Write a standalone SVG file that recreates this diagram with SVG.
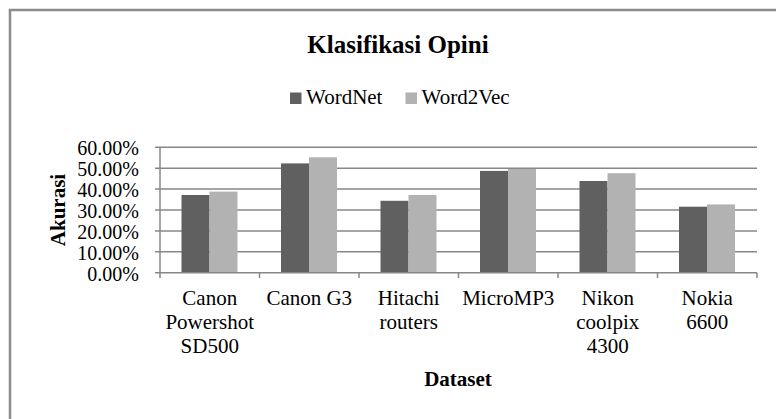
<svg xmlns="http://www.w3.org/2000/svg" width="776" height="419" viewBox="0 0 776 419">
<style>
.t{font-family:"Liberation Serif","Times New Roman",serif;fill:#000}
.tick{font-size:20px;text-anchor:end}
.cat{font-size:21px;text-anchor:middle}
.b{font-weight:bold}
.grid{stroke:#878787;stroke-width:1.5;fill:none}
.dark{fill:#606060}
.light{fill:#b2b2b2}
</style>
<rect width="776" height="419" fill="#fff"/>
<g id="frame" stroke="#8c8c8c" stroke-width="2.5" fill="none">
<line x1="8.8" y1="10" x2="776" y2="10"/>
<line x1="10" y1="10" x2="10" y2="419"/>
</g>
<text id="title" class="t b" x="398" y="53" font-size="25" text-anchor="middle">Klasifikasi Opini</text>
<g id="legend">
<rect class="dark" x="290" y="92.5" width="11.5" height="11.5"/>
<text class="t" x="306" y="104" font-size="21">WordNet</text>
<rect class="light" x="405.5" y="92.5" width="11.5" height="11.5"/>
<text class="t" x="421.5" y="104" font-size="21">Word2Vec</text>
</g>
<g id="gridlines" class="grid">
<line x1="155" y1="147.3" x2="757" y2="147.3"/>
<line x1="155" y1="168.2" x2="757" y2="168.2"/>
<line x1="155" y1="189.1" x2="757" y2="189.1"/>
<line x1="155" y1="210" x2="757" y2="210"/>
<line x1="155" y1="230.9" x2="757" y2="230.9"/>
<line x1="155" y1="251.8" x2="757" y2="251.8"/>
</g>
<g id="y-axis">
<line class="grid" x1="160" y1="147.3" x2="160" y2="272.7"/>
<g class="t tick">
<text x="139" y="155">60.00%</text>
<text x="139" y="176">50.00%</text>
<text x="139" y="197">40.00%</text>
<text x="139" y="217.8">30.00%</text>
<text x="139" y="238.7">20.00%</text>
<text x="139" y="259.6">10.00%</text>
<text x="139" y="280.5">0.00%</text>
</g>
<text class="t b" transform="translate(65,210) rotate(-90)" font-size="21" text-anchor="middle">Akurasi</text>
</g>
<g id="bars">
<g id="canon-powershot">
<rect class="dark" x="181.5" y="195" width="28" height="77.7"/>
<rect class="light" x="209.5" y="191.6" width="28" height="81.1"/>
</g>
<g id="canon-g3">
<rect class="dark" x="281" y="163.4" width="28" height="109.3"/>
<rect class="light" x="309" y="157.3" width="28" height="115.4"/>
</g>
<g id="hitachi">
<rect class="dark" x="380.5" y="200.8" width="28" height="71.9"/>
<rect class="light" x="408.5" y="195" width="28" height="77.7"/>
</g>
<g id="micromp3">
<rect class="dark" x="480" y="170.9" width="28" height="101.8"/>
<rect class="light" x="508" y="169" width="28" height="103.7"/>
</g>
<g id="nikon">
<rect class="dark" x="579.5" y="181" width="28" height="91.7"/>
<rect class="light" x="607.5" y="173.2" width="28" height="99.5"/>
</g>
<g id="nokia">
<rect class="dark" x="679" y="206.7" width="28" height="66"/>
<rect class="light" x="707" y="204.4" width="28" height="68.3"/>
</g>
</g>
<g id="x-axis" class="grid">
<line x1="155" y1="272.7" x2="757" y2="272.7"/>
<line x1="160" y1="272.7" x2="160" y2="278"/>
<line x1="259.5" y1="272.7" x2="259.5" y2="278"/>
<line x1="359" y1="272.7" x2="359" y2="278"/>
<line x1="458.5" y1="272.7" x2="458.5" y2="278"/>
<line x1="558" y1="272.7" x2="558" y2="278"/>
<line x1="657.5" y1="272.7" x2="657.5" y2="278"/>
<line x1="757" y1="272.7" x2="757" y2="278"/>
</g>
<g id="x-labels" class="t cat">
<text x="209.75" y="305">Canon</text>
<text x="209.75" y="329">Powershot</text>
<text x="209.75" y="353">SD500</text>
<text x="309.25" y="305">Canon G3</text>
<text x="408.75" y="305">Hitachi</text>
<text x="408.75" y="329">routers</text>
<text x="508.25" y="305">MicroMP3</text>
<text x="607.75" y="305">Nikon</text>
<text x="607.75" y="329">coolpix</text>
<text x="607.75" y="353">4300</text>
<text x="707.25" y="305">Nokia</text>
<text x="707.25" y="329">6600</text>
</g>
<text id="x-title" class="t b" x="458" y="386" font-size="21" text-anchor="middle">Dataset</text>
</svg>
